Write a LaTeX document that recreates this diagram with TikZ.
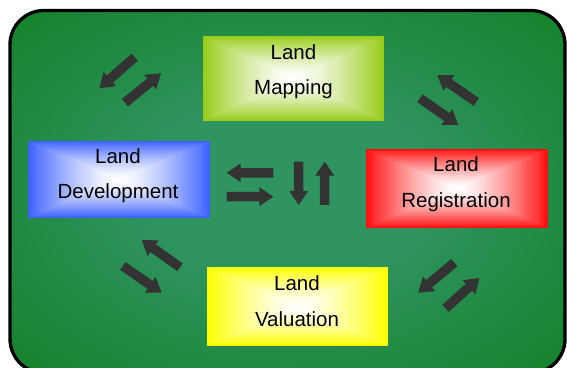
\documentclass[tikz,border=0pt]{standalone}
\usepackage{fontspec}
\setmainfont{Liberation Sans}
\usetikzlibrary{calc}
\definecolor{bgin}{RGB}{47,148,96}
\definecolor{bgout}{RGB}{8,122,18}
\definecolor{arrowcol}{RGB}{51,51,51}
\definecolor{mapc}{RGB}{153,204,26}
\definecolor{devc}{RGB}{61,98,255}
\definecolor{regc}{RGB}{255,16,16}
\definecolor{valc}{RGB}{255,255,0}
\pgfdeclareradialshading{bgshade}{\pgfpoint{0bp}{0bp}}{color(0bp)=(bgin); color(12bp)=(bgin); color(46bp)=(bgout); color(75bp)=(bgout)}
\tikzset{
  gbox/.style={rectangle, inner sep=0pt, outer sep=0pt},
  lbl/.style={anchor=base, inner sep=0pt, font=\fontsize{20.5}{24}\selectfont, text=black},
  frame/.style={line width=3.3pt, rounded corners=34pt, draw=black}
}
% rectangular gradient: colour at the edges, white at the centre
\newcommand\rectgrad[2]{%
  \foreach \k in {0,...,47}{%
    \pgfmathsetmacro\fr{1-\k/48}%
    \pgfmathtruncatemacro\pc{100*\fr^1.4}%
    \fill[#2!\pc!white] ($(#1.center)!\fr!(#1.north west)$) rectangle ($(#1.center)!\fr!(#1.south east)$);
  }}
\newcommand\blkarrow[4]{%
  \begin{scope}[shift={(#1,#2)}, rotate=#3]
    \fill[arrowcol] (0,-4.75) -- ({#4-14},-4.75) -- ({#4-14},-9.5) -- (#4,0) -- ({#4-14},9.5) -- ({#4-14},4.75) -- (0,4.75) -- cycle;
  \end{scope}}
\begin{document}
\begin{tikzpicture}[x=1pt,y=1pt]
\useasboundingbox (0,0) rectangle (567,367);
\shade[shading=bgshade, rounded corners=34pt] (10,356.5) rectangle (565,-6);
\draw[frame] (10,356.5) rectangle (565,-6);

% boxes
\node[gbox, minimum width=181pt, minimum height=85pt] (map) at (293.5,288.5) {};
\node[gbox, minimum width=182pt, minimum height=77pt] (dev) at (119,187.5) {};
\node[gbox, minimum width=182pt, minimum height=79pt] (reg) at (457,178.5) {};
\node[gbox, minimum width=181pt, minimum height=79pt] (val) at (297.5,60.5) {};
\rectgrad{map}{mapc}
\rectgrad{dev}{devc}
\rectgrad{reg}{regc}
\rectgrad{val}{valc}

% labels
\node[lbl] (map1) at (293.5,307.7) {Land};
\node[lbl] (map2) at (293.5,272) {Mapping};
\node[lbl] (dev1) at (118,203) {Land};
\node[lbl] (dev2) at (118,168) {Development};
\node[lbl] (reg1) at (456,195) {Land};
\node[lbl] (reg2) at (456,159) {Registration};
\node[lbl] (val1) at (297,76.3) {Land};
\node[lbl] (val2) at (297,40.3) {Valuation};

% centre arrows
\blkarrow{273.3}{194.2}{180}{46.6}
\blkarrow{226.7}{170.3}{0}{46.6}
\blkarrow{298.7}{205.3}{-90}{43.3}
\blkarrow{324.7}{162}{90}{43.3}

% top left
\blkarrow{134.7}{309.7}{221.2}{47}
\blkarrow{125}{264.3}{39.2}{46.5}
% top right
\blkarrow{476.3}{265}{145.3}{47.4}
\blkarrow{420}{268.7}{-34.9}{46.7}
% bottom left
\blkarrow{180}{99.7}{144.5}{47}
\blkarrow{122.7}{101}{-34.4}{47.3}
% bottom right
\blkarrow{454.3}{104.3}{219.8}{46.9}
\blkarrow{445.5}{58.7}{41.8}{45.5}
\end{tikzpicture}
\end{document}
